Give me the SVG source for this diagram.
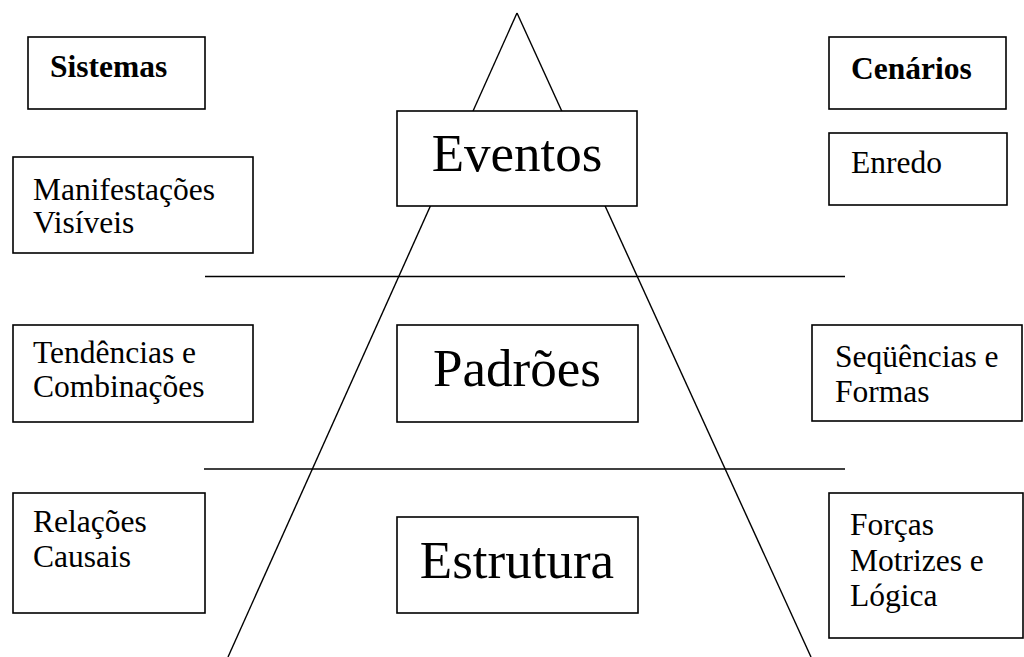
<svg xmlns="http://www.w3.org/2000/svg" width="1024" height="657" viewBox="0 0 1024 657">
<style>
.b{fill:#fff;stroke:#000;stroke-width:1.6}
.l{stroke:#000;stroke-width:1.4;fill:none}
text{font-family:'Liberation Serif';fill:#000}
.t{font-size:31.5px}
.h{font-weight:bold}
.big{font-size:53px;text-anchor:middle}
</style>
<rect width="1024" height="657" fill="#fff"/>
<g id="connectors">
<line class="l" x1="517" y1="13" x2="228" y2="657"/>
<line class="l" x1="517" y1="13" x2="811" y2="657"/>
<line class="l" x1="205" y1="276.5" x2="845" y2="276.5"/>
<line class="l" x1="204" y1="469" x2="845" y2="469"/>
</g>
<g id="sistemas"><rect class="b" x="28" y="37" width="177" height="72"/><text class="t h" x="50" y="77">Sistemas</text></g>
<g id="cenarios"><rect class="b" x="829" y="37" width="177" height="72"/><text class="t h" x="851" y="79">Cenários</text></g>
<g id="eventos"><rect class="b" x="397" y="111" width="240" height="95"/><text class="big" x="517" y="171">Eventos</text></g>
<g id="manifestacoes"><rect class="b" x="13" y="157" width="240" height="96"/><text class="t" x="33" y="200">Manifestações</text><text class="t" x="33" y="233">Visíveis</text></g>
<g id="enredo"><rect class="b" x="829" y="133" width="178" height="72"/><text class="t" x="851" y="173">Enredo</text></g>
<g id="tendencias"><rect class="b" x="13" y="325" width="240" height="97"/><text class="t" x="33" y="363">Tendências e</text><text class="t" x="33" y="397">Combinações</text></g>
<g id="padroes"><rect class="b" x="397" y="325" width="241" height="97"/><text class="big" x="517" y="386">Padrões</text></g>
<g id="sequencias"><rect class="b" x="812" y="325" width="210" height="96"/><text class="t" x="835" y="367">Seqüências e</text><text class="t" x="835" y="402">Formas</text></g>
<g id="relacoes"><rect class="b" x="13" y="493" width="192" height="120"/><text class="t" x="33" y="532">Relações</text><text class="t" x="33" y="567">Causais</text></g>
<g id="estrutura"><rect class="b" x="397" y="517" width="241" height="96"/><text class="big" x="517" y="578">Estrutura</text></g>
<g id="forcas"><rect class="b" x="829" y="493" width="194" height="145"/><text class="t" x="850" y="535">Forças</text><text class="t" x="850" y="571">Motrizes e</text><text class="t" x="850" y="606">Lógica</text></g>
</svg>
